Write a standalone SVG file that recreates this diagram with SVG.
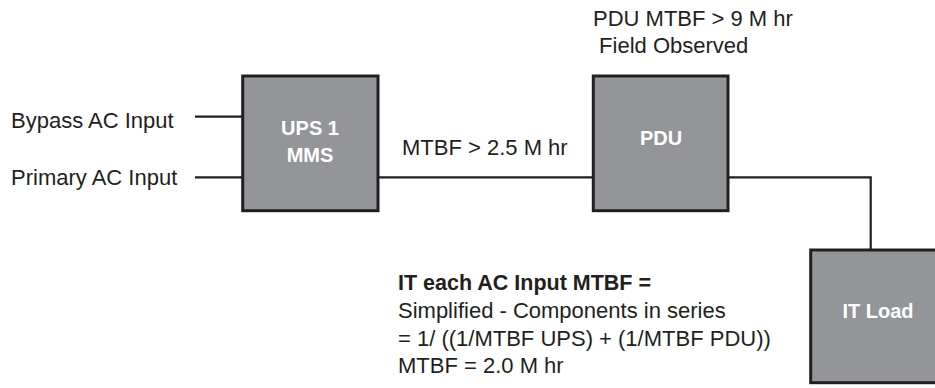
<svg xmlns="http://www.w3.org/2000/svg" width="935" height="388" viewBox="0 0 935 388">
<style>
.box{fill:#939598;stroke:#231f20;stroke-width:3}
.wire{fill:none;stroke:#231f20;stroke-width:2.2}
.lbl{font-family:"Liberation Sans",Arial,sans-serif;font-size:22px;fill:#231f20}
.bold{font-weight:bold;font-size:21.5px}
.in{font-family:"Liberation Sans",Arial,sans-serif;font-size:20px;font-weight:bold;fill:#ffffff;text-anchor:middle}
</style>
<rect width="935" height="388" fill="#ffffff"/>
<g id="connectors">
<line class="wire" x1="195" y1="116.7" x2="243" y2="116.7"/>
<line class="wire" x1="195" y1="177.3" x2="243" y2="177.3"/>
<line class="wire" x1="378" y1="177.3" x2="593" y2="177.3"/>
<polyline class="wire" points="728,177.3 870.7,177.3 870.7,250"/>
</g>
<g id="ups">
<rect class="box" x="242.7" y="76" width="135.3" height="134.7"/>
<text class="in" x="310" y="135">UPS 1</text>
<text class="in" x="310" y="162">MMS</text>
</g>
<g id="pdu">
<rect class="box" x="593.3" y="76" width="134.7" height="134.7"/>
<text class="in" x="661" y="145">PDU</text>
</g>
<g id="itload">
<rect class="box" x="810.7" y="250" width="136" height="132.7"/>
<text class="in" x="878" y="318">IT Load</text>
</g>
<g id="labels">
<text class="lbl" x="11" y="128">Bypass AC Input</text>
<text class="lbl" x="11" y="185">Primary AC Input</text>
<text class="lbl" x="402" y="155">MTBF &gt; 2.5 M hr</text>
<text class="lbl" x="593" y="26">PDU MTBF &gt; 9 M hr</text>
<text class="lbl" x="593" y="53" xml:space="preserve"> Field Observed</text>
<text class="lbl bold" x="398" y="290">IT each AC Input MTBF =</text>
<text class="lbl" x="398" y="318">Simplified - Components in series</text>
<text class="lbl" x="398" y="346">= 1/ ((1/MTBF UPS) + (1/MTBF PDU))</text>
<text class="lbl" x="398" y="373">MTBF = 2.0 M hr</text>
</g>
</svg>
